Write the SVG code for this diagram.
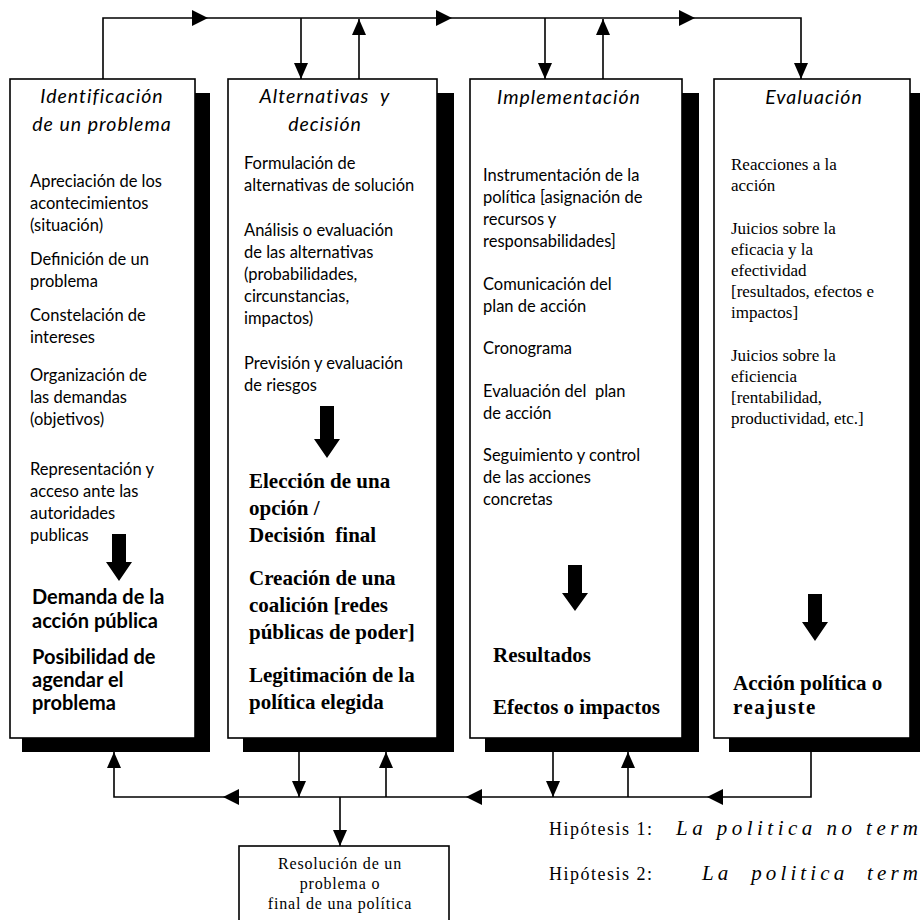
<svg xmlns="http://www.w3.org/2000/svg" width="920" height="920" viewBox="0 0 920 920">
<defs>
<marker id="ah" markerUnits="userSpaceOnUse" markerWidth="18" markerHeight="18" viewBox="0 0 18 18" refX="17" refY="9" orient="auto"><path d="M1,2 L17,9 L1,16 Z" fill="#000"/></marker>
</defs>
<style>
.box{fill:#fff;stroke:#000;stroke-width:1.6}
.sh{fill:#000}
.ln{fill:none;stroke:#000;stroke-width:1.6}
.arr{marker-end:url(#ah)}
.ah{fill:#000}
.blk{fill:#000}
text{fill:#000}
.title{font-family:Lato,"Open Sans",sans-serif;font-style:italic;font-size:19.5px;letter-spacing:1px;text-anchor:middle}
.body{font-family:Lato,"Open Sans",sans-serif;font-size:16.5px}
.bodys{font-family:"Liberation Serif",serif;font-size:17px}
.bsans{font-family:Lato,"Open Sans",sans-serif;font-weight:bold;font-size:20px}
.bserif{font-family:"Liberation Serif",serif;font-weight:bold;font-size:21px}
.res{font-family:"Liberation Serif",serif;font-size:16px;letter-spacing:0.8px;text-anchor:middle}
.hyp{font-family:"Liberation Serif",serif;font-size:18px;letter-spacing:1.5px}
.hypi{font-family:"Liberation Serif",serif;font-size:21px;font-style:italic}
</style>
<rect width="920" height="920" fill="#fff"/>

<g id="connectors">
  <path class="ln arr" d="M103,79 V18 H801 V79"/>
  <polygon class="ah" points="192,10 208,18 192,26"/>
  <polygon class="ah" points="436,10 452,18 436,26"/>
  <polygon class="ah" points="679,10 695,18 679,26"/>
  <path class="ln arr" d="M301,18 V79"/>
  <path class="ln arr" d="M359,79 V19"/>
  <path class="ln arr" d="M545,18 V79"/>
  <path class="ln arr" d="M603,79 V19"/>

  <path class="ln arr" d="M811,752 V797 H114 V752"/>
  <polygon class="ah" points="239,789 223,797 239,805"/>
  <polygon class="ah" points="482,789 466,797 482,805"/>
  <polygon class="ah" points="723,789 707,797 723,805"/>
  <path class="ln arr" d="M299,752 V797"/>
  <path class="ln arr" d="M386,797 V752"/>
  <path class="ln arr" d="M553,752 V797"/>
  <path class="ln arr" d="M628,797 V752"/>
  <path class="ln arr" d="M340,797 V846"/>
</g>

<g id="box-identificacion">
  <rect class="sh" x="22" y="93" width="188" height="659"/>
  <rect class="box" x="10" y="79" width="185" height="659"/>
  <text class="title" x="102" y="103">Identificación</text>
  <text class="title" x="102" y="131">de un problema</text>
  <text class="body" x="30" y="187">Apreciación de los</text>
  <text class="body" x="30" y="209">acontecimientos</text>
  <text class="body" x="30" y="231">(situación)</text>
  <text class="body" x="30" y="265">Definición de un</text>
  <text class="body" x="30" y="287">problema</text>
  <text class="body" x="30" y="321">Constelación de</text>
  <text class="body" x="30" y="343">intereses</text>
  <text class="body" x="30" y="381">Organización de</text>
  <text class="body" x="30" y="403">las demandas</text>
  <text class="body" x="30" y="425">(objetivos)</text>
  <text class="body" x="30" y="475">Representación y</text>
  <text class="body" x="30" y="497">acceso ante las</text>
  <text class="body" x="30" y="519">autoridades</text>
  <text class="body" x="30" y="541">publicas</text>
  <path class="blk" d="M112,534 H126 V562 H132 L119,581 L106,562 H112 Z"/>
  <text class="bsans" x="32" y="604">Demanda de la</text>
  <text class="bsans" x="32" y="628">acción pública</text>
  <text class="bsans" x="32" y="664">Posibilidad de</text>
  <text class="bsans" x="32" y="687">agendar el</text>
  <text class="bsans" x="32" y="710">problema</text>
</g>

<g id="box-alternativas">
  <rect class="sh" x="243" y="93" width="211" height="659"/>
  <rect class="box" x="228" y="79" width="209" height="659"/>
  <text class="title" x="325" y="103">Alternativas&#160;&#160;y</text>
  <text class="title" x="325" y="131">decisión</text>
  <text class="body" x="244" y="169">Formulación de</text>
  <text class="body" x="244" y="191">alternativas de solución</text>
  <text class="body" x="244" y="236">Análisis o evaluación</text>
  <text class="body" x="244" y="258">de las alternativas</text>
  <text class="body" x="244" y="280">(probabilidades,</text>
  <text class="body" x="244" y="302">circunstancias,</text>
  <text class="body" x="244" y="324">impactos)</text>
  <text class="body" x="244" y="369">Previsión y evaluación</text>
  <text class="body" x="244" y="391">de riesgos</text>
  <path class="blk" d="M320,406 H334 V439 H340 L327,458 L314,439 H320 Z"/>
  <text class="bserif" x="249" y="488">Elección de una</text>
  <text class="bserif" x="249" y="515">opción /</text>
  <text class="bserif" x="249" y="542">Decisión&#160;&#160;final</text>
  <text class="bserif" x="249" y="585">Creación de una</text>
  <text class="bserif" x="249" y="612">coalición [redes</text>
  <text class="bserif" x="249" y="639">públicas de poder]</text>
  <text class="bserif" x="249" y="682">Legitimación de la</text>
  <text class="bserif" x="249" y="709">política elegida</text>
</g>

<g id="box-implementacion">
  <rect class="sh" x="485" y="93" width="214" height="659"/>
  <rect class="box" x="470" y="79" width="212" height="659"/>
  <text class="title" x="569" y="104">Implementación</text>
  <text class="body" x="483" y="181">Instrumentación de la</text>
  <text class="body" x="483" y="203">política [asignación de</text>
  <text class="body" x="483" y="225">recursos y</text>
  <text class="body" x="483" y="247">responsabilidades]</text>
  <text class="body" x="483" y="290">Comunicación del</text>
  <text class="body" x="483" y="312">plan de acción</text>
  <text class="body" x="483" y="354">Cronograma</text>
  <text class="body" x="483" y="397">Evaluación del&#160;&#160;plan</text>
  <text class="body" x="483" y="419">de acción</text>
  <text class="body" x="483" y="461">Seguimiento y control</text>
  <text class="body" x="483" y="483">de las acciones</text>
  <text class="body" x="483" y="505">concretas</text>
  <path class="blk" d="M568,565 H582 V593 H588 L575,611 L562,593 H568 Z"/>
  <text class="bserif" x="493" y="662">Resultados</text>
  <text class="bserif" x="493" y="714">Efectos o impactos</text>
</g>

<g id="box-evaluacion">
  <rect class="sh" x="729" y="93" width="198" height="659"/>
  <rect class="box" x="714" y="79" width="196" height="659"/>
  <text class="title" x="814" y="104">Evaluación</text>
  <text class="bodys" x="731" y="170">Reacciones a la</text>
  <text class="bodys" x="731" y="191">acción</text>
  <text class="bodys" x="731" y="234">Juicios sobre la</text>
  <text class="bodys" x="731" y="255">eficacia y la</text>
  <text class="bodys" x="731" y="276">efectividad</text>
  <text class="bodys" x="731" y="297">[resultados, efectos e</text>
  <text class="bodys" x="731" y="318">impactos]</text>
  <text class="bodys" x="731" y="361">Juicios sobre la</text>
  <text class="bodys" x="731" y="382">eficiencia</text>
  <text class="bodys" x="731" y="403">[rentabilidad,</text>
  <text class="bodys" x="731" y="424">productividad, etc.]</text>
  <path class="blk" d="M808,594 H822 V622 H828 L815,641 L802,622 H808 Z"/>
  <text class="bserif" x="733" y="690">Acción política o</text>
  <text class="bserif" x="733" y="714" letter-spacing="1.5">reajuste</text>
</g>

<g id="box-resolucion">
  <rect class="box" x="239" y="846" width="210" height="84"/>
  <text class="res" x="340" y="869">Resolución de un</text>
  <text class="res" x="340" y="889">problema o</text>
  <text class="res" x="340" y="909">final de una política</text>
</g>

<g id="hipotesis">
  <text class="hyp" x="549" y="835">Hipótesis 1:</text>
  <text class="hypi" x="676" y="835" textLength="242" lengthAdjust="spacing">La politica no term</text>
  <text class="hyp" x="549" y="880">Hipótesis 2:</text>
  <text class="hypi" x="702" y="880" textLength="216" lengthAdjust="spacing">La&#160;&#160;politica&#160;&#160;term</text>
</g>
</svg>
